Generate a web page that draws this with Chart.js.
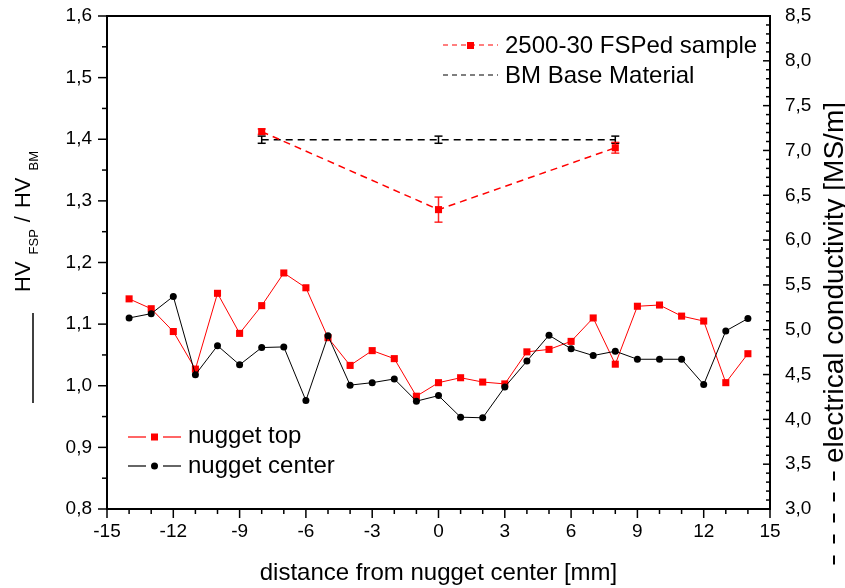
<!DOCTYPE html>
<html>
<head>
<meta charset="utf-8">
<script src="https://cdn.jsdelivr.net/npm/chart.js@4.4.1/dist/chart.umd.min.js"></script>
<style>
html,body{margin:0;padding:0;background:#fff;}
</style>
</head>
<body>
<canvas id="chart" width="845" height="588"></canvas>
<script>
const FONT = "'Liberation Sans', Arial, sans-serif";

const distance = [-14,-13,-12,-11,-10,-9,-8,-7,-6,-5,-4,-3,-2,-1,0,1,2,3,4,5,6,7,8,9,10,11,12,13,14];
const nuggetTop = [1.141,1.125,1.088,1.027,1.150,1.085,1.130,1.183,1.159,1.078,1.033,1.057,1.044,0.983,1.005,1.013,1.006,1.003,1.055,1.059,1.072,1.110,1.035,1.129,1.131,1.113,1.105,1.005,1.052];
const nuggetCenter = [1.110,1.117,1.145,1.018,1.065,1.034,1.062,1.063,0.976,1.081,1.001,1.005,1.011,0.975,0.984,0.949,0.948,0.998,1.040,1.082,1.060,1.049,1.056,1.043,1.043,1.043,1.002,1.089,1.109];

const condPos = [-8, 0, 8];
const fspSample = [7.21, 6.34, 7.03];
const fspError = [0.03, 0.14, 0.06];
const baseMaterial = [7.12, 7.12, 7.12];
const baseError = [0.04, 0.04, 0.04];

const xTicks = [-15,-12,-9,-6,-3,0,3,6,9,12,15];
const hvTicks = [0.8,0.9,1.0,1.1,1.2,1.3,1.4,1.5,1.6];
const condTicks = [3.0,3.5,4.0,4.5,5.0,5.5,6.0,6.5,7.0,7.5,8.0,8.5];

const comma = v => v.toFixed(1).replace(".", ",");
const pairs = (xs, ys) => xs.map((x, i) => ({x:x, y:ys[i]}));

function line(ctx, x1, y1, x2, y2){
    ctx.beginPath();
    ctx.moveTo(x1, y1);
    ctx.lineTo(x2, y2);
    ctx.stroke();
}

// error bars for the two conductivity series
const errorBars = {
    id:"errorBars",
    afterDatasetsDraw(chart){
        const {ctx, scales} = chart;
        const sets = [
            {vals:baseMaterial, err:baseError, color:"#000"},
            {vals:fspSample, err:fspError, color:"rgba(255,0,0,0.85)"}
        ];
        ctx.save();
        ctx.lineWidth = 1.5;
        sets.forEach(s => {
            ctx.strokeStyle = s.color;
            condPos.forEach((p, i) => {
                const x = scales.x.getPixelForValue(p);
                const y1 = scales.y2.getPixelForValue(s.vals[i] + s.err[i]);
                const y2 = scales.y2.getPixelForValue(s.vals[i] - s.err[i]);
                line(ctx, x, y1, x, y2);
                line(ctx, x - 4, y1, x + 4, y1);
                line(ctx, x - 4, y2, x + 4, y2);
            });
        });
        ctx.restore();
    }
};

// box, tick marks, titles and legends
const frame = {
    id:"frame",
    afterDraw(chart){
        const {ctx, chartArea:a, scales} = chart;
        ctx.save();
        ctx.strokeStyle = "#000";
        ctx.fillStyle = "#000";

        ctx.lineWidth = 2;
        ctx.strokeRect(a.left, a.top, a.right - a.left, a.bottom - a.top);

        ctx.lineWidth = 1.5;
        hvTicks.forEach((v, i) => {
            const y = scales.y.getPixelForValue(v);
            line(ctx, a.left - 9, y, a.left, y);
            if(i < hvTicks.length - 1){
                const m = scales.y.getPixelForValue((v + hvTicks[i + 1]) / 2);
                line(ctx, a.left - 5, m, a.left, m);
            }
        });
        for(let v = -15; v <= 15; v++){
            const x = scales.x.getPixelForValue(v);
            const major = xTicks.includes(v);
            line(ctx, x, a.bottom, x, a.bottom + (major ? 9 : 5));
        }
        condTicks.forEach((v, i) => {
            const y = scales.y2.getPixelForValue(v);
            line(ctx, a.right - 7, y, a.right, y);
            if(i < condTicks.length - 1){
                for(let k = 1; k < 5; k++){
                    const m = scales.y2.getPixelForValue(v + k * 0.1);
                    line(ctx, a.right - 4, m, a.right, m);
                }
            }
        });

        // x title
        ctx.font = `24px ${FONT}`;
        ctx.textAlign = "center";
        ctx.textBaseline = "alphabetic";
        ctx.fillText("distance from nugget center [mm]", (a.left + a.right) / 2, 580);

        // left title HV_FSP / HV_BM
        ctx.save();
        ctx.translate(30, 292);
        ctx.rotate(-Math.PI / 2);
        ctx.textAlign = "left";
        let p = 0;
        const part = (txt, size, dy, gap) => {
            ctx.font = `${size}px ${FONT}`;
            ctx.fillText(txt, p, dy);
            p += ctx.measureText(txt).width + gap;
        };
        part("HV", 22, 0, 7);
        part("FSP", 13, 8, 7);
        part("/", 22, 0, 8);
        part("HV", 22, 0, 7);
        part("BM", 13, 8, 0);
        ctx.restore();
        line(ctx, 33, 313, 33, 403);

        // right title, dashed line key then text
        ctx.save();
        ctx.translate(843, 463);
        ctx.rotate(-Math.PI / 2);
        ctx.font = `28px ${FONT}`;
        ctx.textAlign = "left";
        ctx.fillText("electrical conductivity [MS/m]", 0, 0);
        ctx.restore();
        ctx.lineWidth = 2;
        [476, 497, 518, 539, 560].forEach(c => line(ctx, 834, c - 4.5, 834, c + 4.5));

        // legends
        ctx.font = `24px ${FONT}`;
        ctx.textAlign = "left";
        ctx.lineWidth = 1.2;

        ctx.strokeStyle = "#ff0000";
        ctx.fillStyle = "#ff0000";
        ctx.setLineDash([5, 4]);
        line(ctx, 443, 45, 498, 45);
        ctx.setLineDash([]);
        ctx.fillRect(467, 42, 7, 7);
        ctx.fillStyle = "#000";
        ctx.fillText("2500-30 FSPed sample", 505, 53);

        ctx.strokeStyle = "#000";
        ctx.setLineDash([5, 4]);
        line(ctx, 443, 75, 498, 75);
        ctx.setLineDash([]);
        ctx.fillText("BM Base Material", 505, 83);

        ctx.strokeStyle = "#ff0000";
        ctx.fillStyle = "#ff0000";
        line(ctx, 128, 437, 146, 437);
        line(ctx, 163, 437, 181, 437);
        ctx.fillRect(151, 433.5, 7, 7);
        ctx.fillStyle = "#000";
        ctx.fillText("nugget top", 188, 443);

        ctx.strokeStyle = "#000";
        line(ctx, 128, 466, 146, 466);
        line(ctx, 163, 466, 181, 466);
        ctx.beginPath();
        ctx.arc(154.5, 466, 3.5, 0, Math.PI * 2);
        ctx.fill();
        ctx.fillText("nugget center", 188, 473);

        ctx.restore();
    }
};

Chart.defaults.font.family = FONT;
Chart.defaults.color = "#000";

const noPad = s => { s.paddingTop = 0; s.paddingBottom = 0; };

new Chart(document.getElementById("chart"), {
    type:"line",
    data:{
        datasets:[
            {
                label:"nugget center",
                data:pairs(distance, nuggetCenter),
                yAxisID:"y",
                order:1,
                borderColor:"#000",
                backgroundColor:"#000",
                borderWidth:1,
                pointStyle:"circle",
                pointRadius:3.5,
                pointBorderWidth:0
            },
            {
                label:"nugget top",
                data:pairs(distance, nuggetTop),
                yAxisID:"y",
                order:2,
                borderColor:"#ff0000",
                backgroundColor:"#ff0000",
                borderWidth:1,
                pointStyle:"rect",
                pointRadius:5,
                pointBorderWidth:0
            },
            {
                label:"2500-30 FSPed sample",
                data:pairs(condPos, fspSample),
                yAxisID:"y2",
                order:0,
                borderColor:"#ff0000",
                backgroundColor:"#ff0000",
                borderWidth:1.5,
                borderDash:[7, 5],
                pointStyle:"rect",
                pointRadius:5,
                pointBorderWidth:0
            },
            {
                label:"BM Base Material",
                data:pairs(condPos, baseMaterial),
                yAxisID:"y2",
                order:3,
                borderColor:"#000",
                borderWidth:1.5,
                borderDash:[7, 5],
                pointRadius:0
            }
        ]
    },
    options:{
        responsive:false,
        animation:false,
        devicePixelRatio:1,
        layout:{padding:{top:16, left:0, right:0, bottom:0}},
        plugins:{legend:{display:false}, tooltip:{enabled:false}},
        scales:{
            x:{
                type:"linear",
                position:"bottom",
                min:-15,
                max:15,
                grid:{display:false},
                border:{display:false},
                ticks:{font:{size:19}, padding:3, maxRotation:0, callback:v => String(v)},
                afterBuildTicks:s => { s.ticks = xTicks.map(v => ({value:v})); },
                afterFit:s => { s.height = 79; s.paddingLeft = 0; s.paddingRight = 0; }
            },
            y:{
                position:"left",
                min:0.8,
                max:1.6,
                grid:{display:false},
                border:{display:false},
                ticks:{font:{size:19}, padding:7, callback:comma},
                afterBuildTicks:s => { s.ticks = hvTicks.map(v => ({value:v})); },
                afterFit:s => { s.width = 107; noPad(s); }
            },
            y2:{
                position:"right",
                min:3,
                max:8.5,
                grid:{display:false},
                border:{display:false},
                ticks:{font:{size:19}, padding:7, callback:comma},
                afterBuildTicks:s => { s.ticks = condTicks.map(v => ({value:v})); },
                afterFit:s => { s.width = 75; noPad(s); }
            }
        }
    },
    plugins:[errorBars, frame]
});
</script>
</body>
</html>
